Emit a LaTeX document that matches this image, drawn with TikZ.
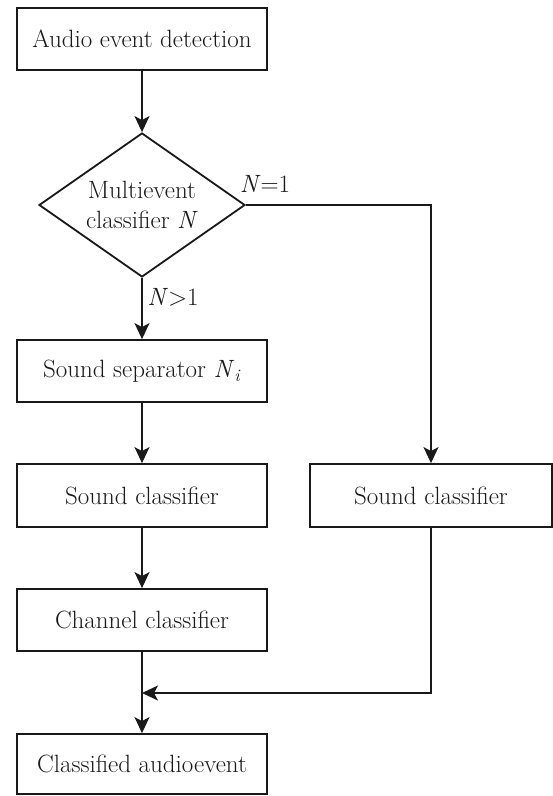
\documentclass[tikz,border=0pt]{standalone}
\usetikzlibrary{shapes.geometric,arrows.meta}
\begin{document}
\begin{tikzpicture}[x=1pt,y=-1pt,
  txt/.style={font=\rmfamily\fontsize{25}{30}\selectfont, text=black!90},
  box/.style={txt, draw=black!90, line width=1.8pt, minimum width=250pt, minimum height=62pt, inner sep=0pt},
  dec/.style={txt, draw=black!90, diamond, aspect=1.43, line width=1.8pt, minimum width=206pt, minimum height=144pt, inner sep=0pt, align=center},
  arr/.style={draw=black!90, line width=1.8pt, -{Stealth[length=16pt,width=15pt,inset=4pt]}},
  lbl/.style={txt, inner sep=0pt}]
\useasboundingbox (0,0) rectangle (553,796);
\node[box] (b1) at (142,39) {Audio event detection};
\node[dec] (d) at (142,205) {Multievent\\classifier \textit{N}};
\node[box] (b2) at (142,371) {Sound separator \textit{N}\textsubscript{\textit{i}}};
\node[box, minimum height=63pt] (b3) at (142,495.5) {Sound classifier};
\node[box, minimum width=242pt, minimum height=63pt] (r) at (431,495.5) {Sound classifier};
\node[box] (b4) at (142,620) {Channel classifier};
\node[box, minimum height=60pt] (b5) at (142,764) {Classified audioevent};
\coordinate (m) at (142,693);
\node[lbl] (l1) at (265,184) {\textit{N}=1};
\node[lbl] (l2) at (173,297) {\textit{N}>1};
\draw[arr] (b1) -- (d);
\draw[arr] (d) -- (b2);
\draw[arr] (d.east) -| (r.north);
\draw[arr] (b2) -- (b3);
\draw[arr] (b3) -- (b4);
\draw[arr] (r.south) |- (m);
\draw[arr] (b4) -- (b5);
\end{tikzpicture}
\end{document}
